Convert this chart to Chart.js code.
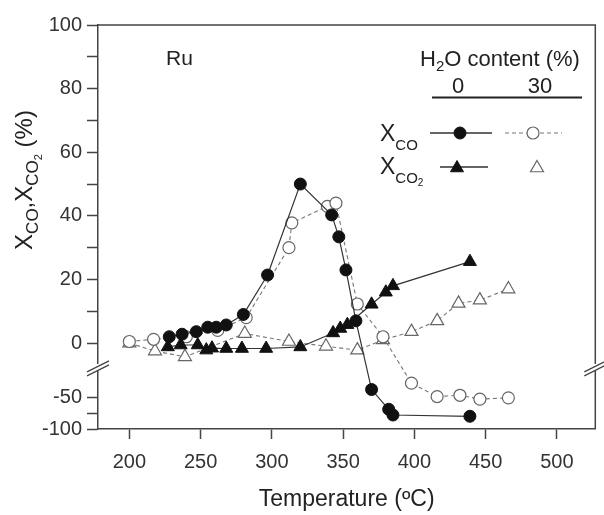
<!DOCTYPE html>
<html>
<head>
<meta charset="utf-8">
<script src="https://cdn.jsdelivr.net/npm/chart.js@4.4.1/dist/chart.umd.min.js"></script>
<style>
    body { margin: 0; background: #fff; }
    #wrap { width: 604px; height: 515px; }
</style>
</head>
<body>
<div id="wrap"><canvas id="chart" width="604" height="515"></canvas></div>
<script>
// Temperatures (ºC) and conversions (%)
var coDryT  = [228, 237, 247, 255, 261, 268, 280, 297, 320, 342, 347, 352, 359, 370, 382, 385, 439];
var coDryX  = [2, 2.8, 3.6, 5, 5, 5.7, 9, 21.4, 50, 40.3, 33.4, 23, 7, -38, -69, -78, -80];

var co2DryT = [227, 236, 248, 254, 258, 268, 279, 296, 320, 343, 348, 353, 370, 380, 385, 439];
var co2DryX = [-1.2, -0.6, -0.6, -2.2, -1.6, -1.7, -1.7, -1.7, -1.2, 3.2, 4.6, 5.8, 12.2, 16, 18, 25.6];

var coWetT  = [200, 217, 240, 262, 282, 312, 314, 339, 345, 360, 378, 398, 416, 432, 446, 466];
var coWetX  = [0.5, 1.2, 2, 4, 8, 30, 37.8, 43, 44, 12.3, 2, -28, -49, -47, -53, -51];

var co2WetT = [200, 218, 239, 281, 312, 338, 360, 378, 398, 416, 431, 446, 466];
var co2WetX = [0, -2.5, -4.3, 3, 0.5, -1, -2.2, 1, 3.6, 7, 12.5, 13.5, 17];

// Axis ticks
var xTicks = [200, 250, 300, 350, 400, 450, 500];
var yTicks = [100, 90, 80, 70, 60, 50, 40, 30, 20, 10, 0, -50, -75, -100];
var yTickText = ['100', '', '80', '', '60', '', '40', '', '20', '', '0', '-50', '', '-100'];

var FONT = '"Liberation Sans", Arial, Helvetica, sans-serif';

// broken y axis: below the break, 50 % takes the room of 10 %
var BREAK_AT = -10;
var BREAK_POS = -7.8;
function toAxis(v) {
    return v >= BREAK_AT ? v : v / 5 - 7;
}

function pts(ts, xs) {
    var out = [];
    for (var i = 0; i < ts.length; i++) {
        out.push({x: ts[i], y: toAxis(xs[i])});
    }
    return out;
}

function drawParts(ctx, parts, x, y) {
    // parts: [text, size, dy]
    var cx = x;
    parts.forEach(function (p) {
        ctx.font = p[1] + 'px ' + FONT;
        ctx.fillText(p[0], cx, y + p[2]);
        cx += ctx.measureText(p[0]).width;
    });
    return cx - x;
}

function partsWidth(ctx, parts) {
    var w = 0;
    parts.forEach(function (p) {
        ctx.font = p[1] + 'px ' + FONT;
        w += ctx.measureText(p[0]).width;
    });
    return w;
}

var dark = '#222';
var grey = '#777';

var decor = {
    id: 'decor',
    afterDraw: function (chart) {
        var ctx = chart.ctx, a = chart.chartArea;
        var yb = chart.scales.y.getPixelForValue(BREAK_POS);
        ctx.save();

        // top and right frame
        ctx.strokeStyle = '#444';
        ctx.lineWidth = 1.5;
        ctx.beginPath();
        ctx.moveTo(a.left, a.top);
        ctx.lineTo(a.right, a.top);
        ctx.lineTo(a.right, a.bottom);
        ctx.stroke();

        // axis break marks
        [a.left, a.right].forEach(function (xb) {
            ctx.fillStyle = '#fff';
            ctx.fillRect(xb - 3, yb - 4, 6, 7);
            ctx.strokeStyle = '#444';
            ctx.lineWidth = 1.3;
            ctx.beginPath();
            ctx.moveTo(xb - 11, yb + 4);
            ctx.lineTo(xb + 11, yb - 7);
            ctx.moveTo(xb - 11, yb + 8);
            ctx.lineTo(xb + 11, yb - 3);
            ctx.stroke();
        });

        ctx.fillStyle = dark;
        ctx.textBaseline = 'alphabetic';
        ctx.textAlign = 'left';

        // y axis title
        var yTitle = [['X', 24, 0], ['CO', 17, 6], [',', 24, 0], ['X', 24, 0], ['CO', 17, 6], ['2', 11, 10], [' (%)', 24, 0]];
        var w = partsWidth(ctx, yTitle);
        ctx.save();
        ctx.translate(32, 180);
        ctx.rotate(-Math.PI / 2);
        drawParts(ctx, yTitle, -w / 2, 0);
        ctx.restore();

        // Ru label
        ctx.font = '21px ' + FONT;
        ctx.fillText('Ru', 166, 65);

        // legend header
        drawParts(ctx, [['H', 22, 0], ['2', 15, 5], ['O content (%)', 22, 0]], 420, 66);
        ctx.textAlign = 'center';
        ctx.font = '22px ' + FONT;
        ctx.fillText('0', 458, 93);
        ctx.fillText('30', 540, 93);
        ctx.textAlign = 'left';
        ctx.strokeStyle = dark;
        ctx.lineWidth = 2;
        ctx.beginPath();
        ctx.moveTo(432, 97.5);
        ctx.lineTo(582, 97.5);
        ctx.stroke();

        // legend rows
        drawParts(ctx, [['X', 23, 0], ['CO', 15, 9]], 380, 141);
        drawParts(ctx, [['X', 23, 0], ['CO', 15, 9], ['2', 10, 12]], 380, 174);

        var r1 = 133, r2 = 167;
        ctx.lineWidth = 1.3;
        ctx.strokeStyle = '#333';
        ctx.beginPath();
        ctx.moveTo(430, r1); ctx.lineTo(492, r1);
        ctx.moveTo(440, r2); ctx.lineTo(488, r2);
        ctx.stroke();
        ctx.strokeStyle = grey;
        ctx.lineWidth = 1.2;
        ctx.setLineDash([4, 3]);
        ctx.beginPath();
        ctx.moveTo(505, r1); ctx.lineTo(562, r1);
        ctx.stroke();
        ctx.setLineDash([]);

        ctx.fillStyle = '#111';
        ctx.strokeStyle = '#111';
        ctx.lineWidth = 1;
        Chart.helpers.drawPoint(ctx, {pointStyle: 'circle', radius: 6, borderWidth: 1}, 460, r1);
        Chart.helpers.drawPoint(ctx, {pointStyle: 'triangle', radius: 7.5, borderWidth: 1}, 457, r2 + 1);
        ctx.fillStyle = '#fff';
        ctx.strokeStyle = '#666';
        ctx.lineWidth = 1.2;
        Chart.helpers.drawPoint(ctx, {pointStyle: 'circle', radius: 6, borderWidth: 1.2}, 533, r1);
        Chart.helpers.drawPoint(ctx, {pointStyle: 'triangle', radius: 7.5, borderWidth: 1.2}, 537, r2 + 1);

        ctx.restore();
    }
};

var ctx = document.getElementById('chart').getContext('2d');
var myChart = new Chart(ctx, {
    type: 'line',
    data: {
        datasets: [{
            label: 'X_CO 0%',
            data: pts(coDryT, coDryX),
            borderColor: '#333',
            borderWidth: 1.2,
            pointStyle: 'circle',
            pointRadius: 6,
            pointBackgroundColor: '#111',
            pointBorderColor: '#111',
            pointBorderWidth: 1
        },
            {
                label: 'X_CO2 0%',
                data: pts(co2DryT, co2DryX),
                borderColor: '#333',
                borderWidth: 1.2,
                pointStyle: 'triangle',
                pointRadius: 7.5,
                pointBackgroundColor: '#111',
                pointBorderColor: '#111',
                pointBorderWidth: 1
            },
            {
                label: 'X_CO 30%',
                data: pts(coWetT, coWetX),
                borderColor: grey,
                borderWidth: 1.1,
                borderDash: [4, 3],
                pointStyle: 'circle',
                pointRadius: 6,
                pointBackgroundColor: '#fff',
                pointBorderColor: '#666',
                pointBorderWidth: 1.2
            },
            {
                label: 'X_CO2 30%',
                data: pts(co2WetT, co2WetX),
                borderColor: grey,
                borderWidth: 1.1,
                borderDash: [4, 3],
                pointStyle: 'triangle',
                pointRadius: 7.5,
                pointBackgroundColor: '#fff',
                pointBorderColor: '#666',
                pointBorderWidth: 1.2
            }
        ]
    },
    options: {
        responsive: false,
        animation: false,
        layout: { padding: { top: 25, right: 2, left: 0, bottom: 0 } },
        plugins: {
            legend: { display: false },
            tooltip: { enabled: false }
        },
        elements: { line: { tension: 0 } },
        scales: {
            x: {
                type: 'linear',
                min: 178,
                max: 527,
                afterBuildTicks: function (s) {
                    s.ticks = xTicks.map(function (v) { return {value: v}; });
                },
                afterFit: function (s) { s.height = 86; },
                grid: { drawOnChartArea: false, drawTicks: true, tickLength: 10, tickWidth: 1.5, tickColor: '#444' },
                border: { color: '#444', width: 1.5 },
                ticks: {
                    autoSkip: false,
                    maxRotation: 0,
                    padding: 11,
                    color: '#333',
                    font: { family: FONT, size: 20 }
                },
                title: {
                    display: true,
                    text: 'Temperature (ºC)',
                    color: dark,
                    font: { family: FONT, size: 23 },
                    padding: { top: 0, bottom: 2 }
                }
            },
            y: {
                type: 'linear',
                min: -27,
                max: 100,
                afterBuildTicks: function (s) {
                    s.ticks = yTicks.map(function (v) { return {value: toAxis(v)}; });
                },
                afterFit: function (s) { s.width = 98; },
                grid: { drawOnChartArea: false, drawTicks: true, tickLength: 11, tickWidth: 1.5, tickColor: '#444' },
                border: { color: '#444', width: 1.5 },
                ticks: {
                    autoSkip: false,
                    padding: 5,
                    color: '#333',
                    font: { family: FONT, size: 20 },
                    callback: function (value, index) { return yTickText[index]; }
                }
            }
        }
    },
    plugins: [decor]
});
</script>
</body>
</html>
